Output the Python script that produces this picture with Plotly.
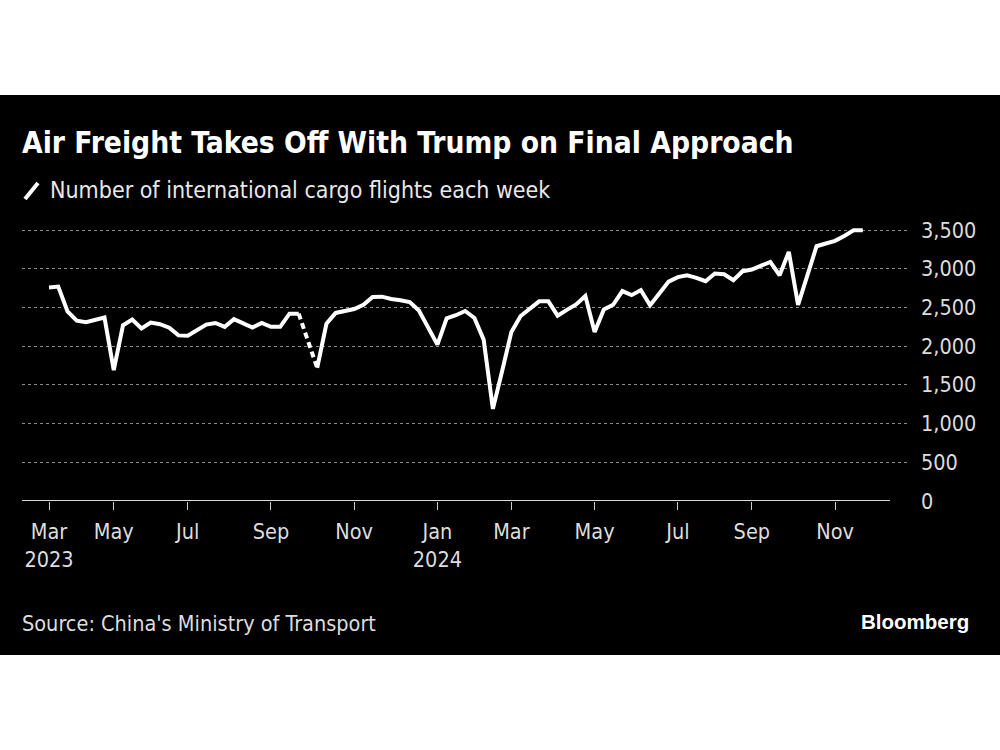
import plotly.graph_objects as go
import pandas as pd

# ---- data ----
weeks = pd.date_range("2023-03-19", "2024-11-24", freq="7D")
flights = [
    2760, 2770, 2450, 2330, 2310, 2345, 2370, 1690, 2270, 2345, 2230,
    2305, 2285, 2240, 2140, 2135, 2210, 2280, 2300, 2250, 2350, 2295,
    2240, 2300, 2250, 2250, 2420, 2420, None, 1720, 2290, 2430, 2455,
    2480, 2535, 2635, 2640, 2610, 2595, 2570, 2460, 2240,
    2020, 2360, 2400, 2455, 2365, 2085, 1190, 1680, 2185, 2390, 2490,
    2580, 2580, 2395, 2470, 2540, 2650, 2185, 2475, 2535, 2712, 2660,
    2725, 2530, 2680, 2835, 2893, 2917, 2883, 2840, 2939, 2930, 2853,
    2969, 2991, 3038, 3090, 2917, 3219, 2534, 2900, 3292, 3327, 3361,
    3425, 3499, 3499,
]
tick_dates = ["2023-03-19", "2023-05-07", "2023-07-02", "2023-09-03", "2023-11-05",
              "2024-01-07", "2024-03-03", "2024-05-05", "2024-07-07", "2024-09-01",
              "2024-11-03"]
tick_labels = ["Mar<br>2023", "May", "Jul", "Sep", "Nov", "Jan<br>2024", "Mar",
               "May", "Jul", "Sep", "Nov"]
y_ticks = [0, 500, 1000, 1500, 2000, 2500, 3000, 3500]
y_labels = [f"{v:,}" for v in y_ticks]

title = "Air Freight Takes Off With Trump on Final Approach"
subtitle = "Number of international cargo flights each week"
source = "Source: China's Ministry of Transport"

# ---- geometry helpers (pixel -> paper) ----
W, H = 1000, 750
L, R, T, B = 22, 908, 222, 501
def px(x): return (x - L) / (R - L)
def py(y): return (B - y) / (B - T)

FONT = "DejaVu Sans Condensed, DejaVu Sans, sans-serif"

fig = go.Figure()
fig.add_trace(go.Scatter(x=weeks, y=flights, mode="lines", connectgaps=False,
                         line=dict(color="white", width=4), hoverinfo="skip"))
gx, gy = [], []
for i, v in enumerate(flights):
    if v is None:
        gx += [weeks[i - 1], weeks[i + 1], None]
        gy += [flights[i - 1], flights[i + 1], None]
fig.add_trace(go.Scatter(x=gx, y=gy, mode="lines",
                         line=dict(color="white", width=4, dash="6px,4px"), hoverinfo="skip"))

shapes = [
    dict(type="rect", xref="paper", yref="paper", x0=px(0), x1=px(1000), y0=py(655), y1=py(95),
         fillcolor="black", line=dict(width=0), layer="below"),
    dict(type="line", xref="paper", yref="y", x0=px(22), x1=px(890), y0=0, y1=0,
         line=dict(color="#d9d9d9", width=2)),
    dict(type="line", xref="paper", yref="paper", x0=px(25), x1=px(38), y0=py(199), y1=py(183),
         line=dict(color="white", width=4)),
]

ann = [
    dict(text=f"<b>{title}</b>", x=px(20), y=py(142), font=dict(size=29.7, color="white")),
    dict(text=subtitle, x=px(48), y=py(190), font=dict(size=23, color="#e8e8e8")),
    dict(text=source, x=px(20), y=py(623), font=dict(size=21.5, color="#dddddd")),
    dict(text="<b>Bloomberg</b>", x=px(971), y=py(621), xanchor="right",
         font=dict(size=20.5, color="white", family="Liberation Sans, Arial, sans-serif")),
]
for a in ann:
    a.setdefault("xanchor", "left")
    a.update(xref="paper", yref="paper", yanchor="middle", showarrow=False)

fig.update_layout(
    width=W, height=H, margin=dict(l=L, r=W - R, t=T, b=H - B, pad=0),
    paper_bgcolor="white", plot_bgcolor="black", showlegend=False,
    font=dict(family=FONT, color="#dddddd", size=21.5),
    shapes=shapes, annotations=ann,
    xaxis=dict(type="date", range=["2023-02-26 13:26", "2024-12-28 05:00"],
               tickvals=tick_dates, ticktext=tick_labels, ticks="outside", ticklen=8,
               tickcolor="#cccccc", tickwidth=1, showgrid=False, showline=False, zeroline=False,
               ticklabelstandoff=3,
               tickfont=dict(size=21.5, color="#dddddd"), fixedrange=True),
    yaxis=dict(side="right", range=[0, 3605], tickvals=y_ticks, ticktext=y_labels,
               showgrid=True, gridcolor="#8c8c8c", griddash="dot", gridwidth=1,
               zeroline=False, showline=False, ticks="", ticklabelstandoff=12,
               tickfont=dict(size=21.5, color="#dddddd"), fixedrange=True),
)
fig.write_html("out.html")
